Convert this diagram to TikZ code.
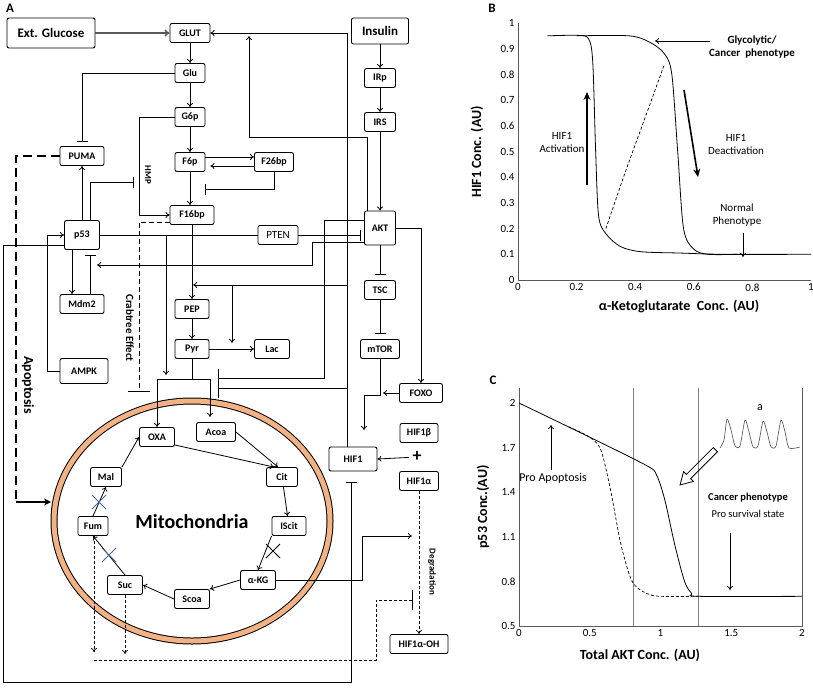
\documentclass[tikz,border=0pt]{standalone}
\usepackage{fontspec}
\setmainfont{Carlito}
\usepackage{tikz}
\usetikzlibrary{arrows.meta,shapes.misc}
\definecolor{peach}{RGB}{242,178,132}
\definecolor{xblue}{RGB}{70,100,150}

\begin{document}
\begin{tikzpicture}[x=1pt,y=1pt,yscale=-1,xscale=1,
  box/.style={draw,line width=0.9pt,rounded corners=2pt,inner sep=1pt,minimum height=19pt,
    font=\bfseries\fontsize{10}{11}\selectfont},
  act/.style={line width=0.8pt,-{To[length=4pt,width=6pt]}},
  inh/.style={line width=0.8pt,-{Bar[width=11pt,line width=0.9pt]}},
  dact/.style={line width=0.7pt,dash pattern=on 3pt off 2pt,-{To[length=4pt,width=6pt]}},
  tick/.style={font=\fontsize{11}{12}\selectfont},
  axlab/.style={font=\bfseries\fontsize{14}{15}\selectfont},
  cross/.style={draw,cross out,line width=1pt,minimum size=13pt,inner sep=0pt}]
\useasboundingbox (0,0) rectangle (813,688);

% Panel A
\node[font=\bfseries\fontsize{13}{14}\selectfont] at (10,8) {A};

% boxes
\node[box,minimum width=88pt,minimum height=30pt,font=\bfseries\fontsize{13}{14}\selectfont] (glc) at (51,33) {Ext. Glucose};
\node[box,minimum width=40pt] (glut) at (190,33) {GLUT};
\node[box,minimum width=57pt,minimum height=26pt,font=\bfseries\fontsize{13}{14}\selectfont] (ins) at (380,31) {Insulin};
\node[box,minimum width=30pt] (glu) at (190,73) {Glu};
\node[box,minimum width=31pt] (irp) at (380,78) {IRp};
\node[box,minimum width=30pt] (g6p) at (190,117) {G6p};
\node[box,minimum width=31pt] (irs) at (380,122) {IRS};
\node[box,minimum width=44pt] (puma) at (82,156) {PUMA};
\node[box,minimum width=30pt] (f6p) at (190,162) {F6p};
\node[box,minimum width=39pt] (f26) at (274,162) {F26bp};
\node[box,minimum width=44pt] (f16) at (192,215) {F16bp};
\node[box,minimum width=35pt,minimum height=29pt] (p53) at (82,235) {p53};
\node[box,minimum width=40pt,font=\fontsize{11}{12}\selectfont] (pten) at (278,235) {PTEN};
\node[box,minimum width=31pt,minimum height=34pt] (akt) at (380,228) {AKT};
\node[box,minimum width=44pt] (mdm) at (82,304) {Mdm2};
\node[box,minimum width=31pt] (tsc) at (380,290) {TSC};
\node[box,minimum width=34pt] (pep) at (192,309) {PEP};
\node[box,minimum width=34pt] (pyr) at (192,349) {Pyr};
\node[box,minimum width=35pt] (lac) at (272,349) {Lac};
\node[box,minimum width=39pt] (mtor) at (380,349) {mTOR};
\node[box,minimum width=48pt,minimum height=25pt] (ampk) at (84,371) {AMPK};
\node[box,minimum width=43pt] (foxo) at (421,393) {FOXO};

% mitochondria
\draw[line width=7pt] (192,521) ellipse [x radius=138,y radius=120];
\draw[line width=5pt,peach] (192,521) ellipse [x radius=138,y radius=120];
\node[font=\bfseries\fontsize{20}{22}\selectfont] at (192,522) {Mitochondria};

\node[box,minimum width=35pt,fill=white] (oxa) at (157,437) {OXA};
\node[box,minimum width=39pt] (acoa) at (216,432) {Acoa};
\node[box,minimum width=38pt] (hifb) at (419,433) {HIF1β};
\node[box,minimum width=48pt,minimum height=24pt] (hif) at (353,459) {HIF1};
\node[font=\bfseries\fontsize{18}{18}\selectfont] (plus) at (417,457) {+};
\node[box,minimum width=39pt] (hifa) at (419,481) {HIF1α};
\node[box,minimum width=31pt] (cit) at (282,477) {Cit};
\node[box,minimum width=31pt] (mal) at (106,477) {Mal};
\node[box,minimum width=30pt] (fum) at (93,526) {Fum};
\node[box,minimum width=34pt] (iscit) at (289,526) {IScit};
\node[box,minimum width=35pt,fill=white] (akg) at (258,580) {α-KG};
\node[box,minimum width=35pt] (suc) at (125,585) {Suc};
\node[box,minimum width=35pt] (scoa) at (192,599) {Scoa};
\node[box,minimum width=58pt] (hifoh) at (419,644) {HIF1α-OH};

% rotated labels
\node[rotate=-90,font=\bfseries\fontsize{9}{10}\selectfont] at (148,175) {HMP};
\node[rotate=-90,font=\bfseries\fontsize{11}{12}\selectfont] at (130,328) {Crabtree Effect};
\node[rotate=-90,font=\bfseries\fontsize{14}{15}\selectfont] at (28,385) {Apoptosis};
\node[rotate=-90,font=\bfseries\fontsize{9}{10}\selectfont] at (432,572) {Degradation};

% glycolysis
\draw[line width=1.5pt,gray!70!black,-{To[length=5pt,width=7pt]}] (glc) -- (glut);
\draw[act] (glut) -- (glu);
\draw[act] (glu) -- (g6p);
\draw[act] (g6p) -- (f6p);
\draw[act] (f6p.south) -- (f16.north -| f6p.south);
\draw[act] (f16) -- (pep);
\draw[act] (pep) -- (pyr);
\draw[act] (pyr) -- (lac);
\draw[act] ([yshift=-5pt]f6p.east) -- ([yshift=-5pt]f26.west);
\draw[act] ([yshift=4pt]f26.west) -- ([yshift=4pt,xshift=5pt]f6p.east);
\draw[inh] (f26.south) |- (205,189);
\draw[act] (g6p.west) -| (139,215) -- (f16.west);
\draw[line width=0.8pt] (pyr.south) -- (192,379);
\draw[act] (192,379) -| (oxa.north);
\draw[act] (192,379) -| (210,417);

% insulin signalling
\draw[act] (ins) -- (irp);
\draw[act] (irp) -- (irs);
\draw[act] (irs) -- (akt);
\draw[inh,shorten >=5pt] (akt) -- (tsc);
\draw[inh,shorten >=5pt] (tsc) -- (mtor);
\draw[act] ([xshift=-13pt]akt.north) |- (249,137) -- (249,36);
\draw[act] (akt.east) -| (foxo.north);
\draw[act] (foxo.west) -- (383,393);
\draw[act] (mtor.south) |- (364,395) -- (364,430);
\draw[act] ([xshift=-6pt]hif.north) |- (glut.east);
\draw[line width=0.8pt] ([yshift=-8pt]akt.west) -| (324,378) -- (218,378);
\draw[line width=0.8pt] (347,388) -- (218,388);
\draw[line width=0.9pt] (218,369) -- (218,398);
\draw[act] ([yshift=14pt]akt.west) -| (312,265) -- (97,265);
\draw[act] (347,285) -- (193,285);
\draw[act] (232,285) -- (232,343);
\draw[inh] (pten) -- ([xshift=-3pt]akt.west |- pten);

% p53 module
\draw[line width=0.8pt] (p53) -- (pten);
\draw[act] (p53) -- (puma);
\draw[inh] ([xshift=8pt]p53.north) |- (134,182);
\draw[act] ([xshift=-10pt]p53.south) -- ([xshift=-10pt]mdm.north);
\draw[inh] ([xshift=8pt]mdm.north) -- ([xshift=8pt,yshift=5pt]p53.south);
\draw[inh] (glu.west) -| ([yshift=-4pt]puma.north);
\draw[act] (ampk.west) -| (47,235) -- (p53.west);
\draw[act] (166,235) -- (166,375);
\draw[inh] ([yshift=10pt]p53.west) -| (3,682) -| ([xshift=-2pt,yshift=11pt]hif.south);
\draw[line width=2pt,dash pattern=on 9pt off 5pt] (puma.west) -| (16,502);
\draw[line width=1.6pt,-{Stealth[length=7pt,width=7pt]}] (16,502) -- (51,502);
\draw[line width=1pt,dash pattern=on 5pt off 3pt,-{Bar[width=22pt,line width=1.2pt]}] ([yshift=7pt]f16.west) -| (139,392);

% TCA cycle
\draw[act] ([yshift=8pt]oxa.east) -- ([xshift=-8pt]cit.north);
\draw[act] (acoa.east) -- ([xshift=-4pt]cit.north);
\draw[act] (cit) -- (iscit);
\draw[act] (iscit.south west) -- (akg.north);
\node[cross] at (273,551) {};
\draw[act] (akg.west) -- (scoa.north east);
\draw[act] (scoa.west) -- (suc.east);
\draw[act] (suc.north) -- (fum.south);
\node[cross,xblue] at (109,555) {};
\draw[act] (fum.north) -- (mal.south);
\node[cross,xblue] at (99,502) {};
\draw[act] (mal.north east) -- (oxa.west);

% HIF1 regulation
\draw[act] (plus) -- (hif.east);
\draw[dact] (hifa) -- (hifoh);
\draw[act] (akg.east) -| (362,536) -- (412,536);
\draw[dact] ([xshift=1pt]fum.south) -- (94,652);
\draw[dact] (suc.south) -- (125,654);
\draw[line width=0.7pt,dash pattern=on 3pt off 2pt,-{Bar[width=20pt,line width=0.9pt]}] (94,660) -| (376,600) -- (413,600);

% Panel B
\node[font=\bfseries\fontsize{13}{14}\selectfont] at (492,8) {B};
\begin{scope}[shift={(518,280)},xscale=293,yscale=-257]
  \draw[gray!70!black,line width=0.6pt] (0,1) -- (0,0) -- (1,0);
  \foreach \x/\l in {0/0,0.2/0.2,0.4/0.4,0.6/0.6,0.8/0.8,1/1}
    \node[tick,below] at (\x,0) {\l};
  \foreach \y/\l in {0/0,0.1/0.1,0.2/0.2,0.3/0.3,0.4/0.4,0.5/0.5,0.6/0.6,0.7/0.7,0.8/0.8,0.9/0.9,1/1}
    \node[tick,left] at (0,\y) {\l};
  \draw[line width=0.8pt] plot[smooth,tension=0.5] coordinates {(0.1,0.95) (0.2,0.952) (0.24,0.94) (0.255,0.85) (0.265,0.5) (0.275,0.25) (0.3,0.18) (0.35,0.13) (0.42,0.11) (0.55,0.105) (0.7,0.1) (1,0.1)};
  \draw[line width=0.8pt] plot[smooth,tension=0.5] coordinates {(0.2,0.95) (0.38,0.95) (0.45,0.925) (0.5,0.88) (0.525,0.8) (0.545,0.5) (0.565,0.2) (0.6,0.12) (0.65,0.1) (0.75,0.1)};
  \draw[line width=0.7pt,dash pattern=on 3pt off 2pt] plot[smooth] coordinates {(0.3,0.2) (0.36,0.4) (0.43,0.62) (0.5,0.84)};
\end{scope}
\node[axlab,rotate=90] at (477,152) {HIF1 Conc. (AU)};
\node[axlab] at (679,306) {α-Ketoglutarate\ \ Conc. (AU)};
\node[font=\bfseries\fontsize{11}{13}\selectfont,align=center] (glyc) at (752,47) {Glycolytic/\\Cancer\ \ phenotype};
\draw[act] (710,41) -- (655,41);
\node[font=\fontsize{11}{13}\selectfont,align=center] at (562,142) {HIF1\\Activation};
\draw[line width=1.6pt,-{Stealth[length=8pt,width=7pt]}] (587,185) -- (587,92);
\node[font=\fontsize{11}{13}\selectfont,align=center] at (736,144) {HIF1\\Deactivation};
\draw[line width=1.6pt,-{Stealth[length=8pt,width=7pt]}] (684,90) -- (698,177);
\node[font=\fontsize{11}{13}\selectfont,align=center] at (737,215) {Normal\\Phenotype};
\draw[act] (743,233) -- (743,257);

% Panel C
\node[font=\bfseries\fontsize{13}{14}\selectfont] at (493,380) {C};
\begin{scope}[shift={(519,700.4)},xscale=141.5,yscale=-148.7]
  \draw[gray!70!black,line width=0.6pt] (0,2.1) -- (0,0.5) -- (2,0.5) -- (2,2.1);
  \draw[gray,line width=0.6pt] (0.81,0.5) -- (0.81,2.1) (1.27,0.5) -- (1.27,2.1);
  \foreach \x/\l in {0/0,0.5/0.5,1/1,1.5/1.5,2/2}
    \node[tick,below] at (\x,0.5) {\l};
  \foreach \y/\l in {0.5/0.5,0.8/0.8,1.1/1.1,1.4/1.4,1.7/1.7,2/2}
    \node[tick,left] at (0,\y) {\l};
  \draw[line width=0.8pt] plot[smooth,tension=0.5] coordinates {(0,2) (0.5,1.77) (0.9,1.58) (0.97,1.52) (1.03,1.35) (1.1,1.05) (1.17,0.8) (1.22,0.72) (1.27,0.7) (2,0.7)};
  \draw[line width=0.7pt,dash pattern=on 3pt off 2pt] plot[smooth,tension=0.5] coordinates {(0.35,1.84) (0.5,1.77) (0.58,1.68) (0.65,1.4) (0.72,1.05) (0.8,0.8) (0.9,0.72) (1.0,0.7) (1.27,0.7)};
\end{scope}
\node[axlab,rotate=90] at (483,507) {p53 Conc.(AU)};
\node[axlab] at (640,655) {Total AKT Conc. (AU)};
\node[font=\fontsize{12}{13}\selectfont] at (760,408) {a};
\draw[gray!60!black,line width=0.6pt] plot[smooth,tension=0.4] coordinates {(720,448) (724,440) (727,419) (731,430) (735,446) (740,446) (745,420) (749,432) (753,447) (758,446) (763,421) (767,432) (771,447) (776,446) (781,420) (785,432) (789,448) (800,447)};
\draw[line width=0.8pt] (680,485) -- (693.4,481.4) -- (690.6,478.6) -- (717.5,451.7) -- (713.3,447.5) -- (686.4,474.4) -- (683.6,471.6) -- cycle;
\node[font=\fontsize{12}{13}\selectfont] at (553,478) {Pro Apoptosis};
\draw[act] (551,470) -- (551,425);
\node[font=\bfseries\fontsize{10.5}{12}\selectfont] at (748,498) {Cancer phenotype};
\node[font=\fontsize{10.5}{12}\selectfont] at (748,514) {Pro survival state};
\draw[act] (730,533) -- (730,590);
\end{tikzpicture}
\end{document}
